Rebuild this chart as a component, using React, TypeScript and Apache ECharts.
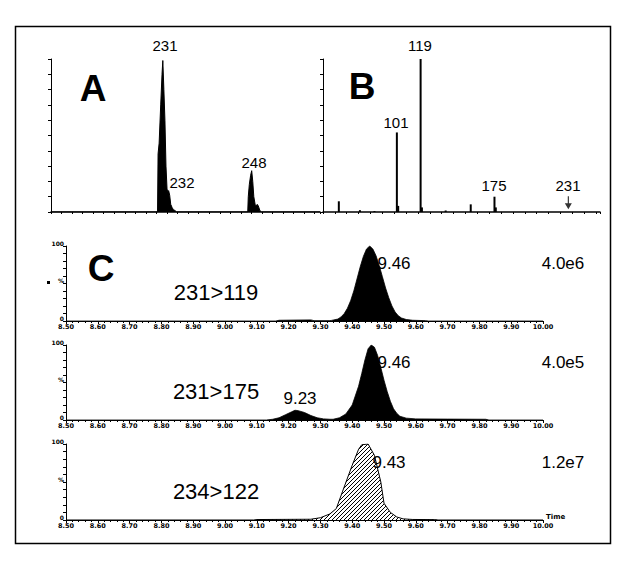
import React, { useEffect, useRef } from "react";
import * as echarts from "echarts";

// ---- Panel A: full-scan spectrum (profile) ----
const specAMz = [210, 230.2, 230.3, 230.5, 230.8, 231.05, 231.2, 231.4, 231.6, 231.8, 232.0, 232.15, 232.3, 232.5, 232.7, 232.95, 233.2, 233.5, 233.8, 247.3, 247.4, 247.6, 247.85, 248.05, 248.25, 248.45, 248.7, 248.9, 249.1, 249.3, 249.6, 249.9, 261];
const specAInt = [0, 0, 38, 45, 70, 90, 99, 80, 60, 30, 15, 13, 14, 11, 5, 3, 1.5, 1, 0, 0, 10, 18, 24, 27, 20, 10, 5, 4, 5, 4, 1, 0, 0];
const labelsA = ["231", "232", "248"];

// ---- Panel B: product-ion spectrum (centroid sticks) ----
const specBMz = [57, 73, 84, 101, 102, 119, 120, 138, 157, 175, 176];
const specBInt = [7, 1.2, 0.6, 52, 4, 100, 3, 1, 5, 10, 3];
const labelsB = ["101", "119", "175", "231"];
const arrowMz = 231;

// ---- Panel C: MRM chromatograms ----
const c1Time = [8.5, 9.16, 9.17, 9.27, 9.28, 9.33, 9.335, 9.355, 9.365, 9.375, 9.385, 9.395, 9.405, 9.415, 9.425, 9.435, 9.445, 9.455, 9.465, 9.475, 9.485, 9.495, 9.505, 9.515, 9.525, 9.535, 9.545, 9.555, 9.57, 9.59, 9.63, 9.64, 10.0];
const c1Int = [0, 0, 1, 1.5, 0.5, 0.5, 0.8, 2.6, 5.5, 10, 17, 27, 40, 56, 72, 86, 96, 100, 96, 87, 74, 59, 44, 31, 20, 12, 7, 4, 2, 1, 0.5, 0, 0];
const c2Time = [8.5, 9.13, 9.15, 9.17, 9.19, 9.21, 9.22, 9.23, 9.25, 9.27, 9.29, 9.31, 9.33, 9.34, 9.36, 9.38, 9.4, 9.42, 9.43, 9.44, 9.45, 9.46, 9.47, 9.48, 9.49, 9.5, 9.51, 9.52, 9.53, 9.54, 9.55, 9.57, 9.6, 9.7, 9.82, 9.83, 10.0];
const c2Int = [0, 0, 1, 3, 7, 11, 13, 12.5, 10, 6, 3, 1.5, 1, 1, 3, 8, 20, 45, 62, 80, 95, 100, 97, 86, 70, 53, 38, 25, 15, 9, 5, 2.5, 1.5, 1.2, 1, 0, 0];
const c3Time = [8.5, 9.09, 9.1, 9.27, 9.3, 9.33, 9.35, 9.37, 9.4, 9.42, 9.43, 9.45, 9.47, 9.49, 9.5, 9.52, 9.54, 9.56, 9.59, 9.66, 9.67, 10.0];
const c3Int = [0, 0, 0.6, 1, 3, 8, 15, 38, 72, 93, 99, 100, 85, 50, 22, 10, 4, 1.5, 0.7, 0.5, 0, 0];
const timeRange = [8.5, 10.0];

const transitions = ["231>119", "231>175", "234>122"];
const peakLabels = ["9.46", "9.46", "9.43"];
const minorPeakLabel = "9.23";
const intensities = ["4.0e6", "4.0e5", "1.2e7"];

const FONT = "'Liberation Sans', Arial, sans-serif";

const hatch =
  "data:image/svg+xml;utf8," +
  encodeURIComponent(
    "<svg xmlns='http://www.w3.org/2000/svg' width='4' height='4'><path d='M-1,1 L1,-1 M0,4 L4,0 M3,5 L5,3' stroke='black' stroke-width='1'/></svg>"
  );

export default function App() {
  const ref = useRef<HTMLDivElement>(null);
  useEffect(() => {
    if (!ref.current) return;
    const chart = echarts.init(ref.current, null, { renderer: "svg" });

    const pairs = (xs: number[], ys: number[]) => xs.map((x, i) => [x, ys[i]]);

    const grids = [
      { left: 51, top: 59, width: 269, height: 153 },
      { left: 323, top: 59, width: 277, height: 153 },
      { left: 66, top: 246, width: 477, height: 75 },
      { left: 66, top: 345, width: 477, height: 75 },
      { left: 66, top: 444, width: 477, height: 76 },
    ];

    const specX = (gi: number, min: number, max: number, interval: number) => ({
      type: "value",
      gridIndex: gi,
      min,
      max,
      interval,
      axisLine: { show: true, lineStyle: { color: "#000", width: 1.5 } },
      axisTick: { show: true, length: 2, lineStyle: { color: "#000" } },
      axisLabel: { show: false },
      splitLine: { show: false },
    });
    const specY = (gi: number) => ({
      type: "value",
      gridIndex: gi,
      min: 0,
      max: 100,
      interval: 10,
      axisLine: { show: true, lineStyle: { color: "#000" } },
      axisTick: { show: true, length: 3, lineStyle: { color: "#000" } },
      axisLabel: { show: false },
      splitLine: { show: false },
    });
    const chromX = (gi: number, last: boolean) => ({
      type: "value",
      gridIndex: gi,
      min: timeRange[0],
      max: timeRange[1],
      interval: 0.1,
      name: last ? "Time" : "",
      nameLocation: "end",
      nameGap: 3,
      nameTextStyle: { fontSize: 7, fontWeight: "bold", color: "#000", fontFamily: "DejaVu Sans", verticalAlign: "bottom" },
      axisLine: { show: true, lineStyle: { color: "#000", width: 1 } },
      axisTick: { show: true, length: 3, lineStyle: { color: "#000" } },
      minorTick: { show: true, splitNumber: 5, length: 2, lineStyle: { color: "#000" } },
      axisLabel: {
        show: true,
        fontSize: 6.5,
        fontWeight: "bold",
        color: "#000",
        fontFamily: "DejaVu Sans",
        margin: 2,
        formatter: (v: number) => v.toFixed(2),
      },
      splitLine: { show: false },
    });
    const chromY = (gi: number) => ({
      type: "value",
      gridIndex: gi,
      min: 0,
      max: 100,
      interval: 10,
      axisLine: { show: true, lineStyle: { color: "#000" } },
      axisTick: { show: true, length: 3, lineStyle: { color: "#000" } },
      axisLabel: {
        show: true,
        fontSize: 6,
        fontWeight: "bold",
        color: "#000",
        fontFamily: "DejaVu Sans",
        margin: 2,
        verticalAlign: "bottom",
        formatter: (v: number) => (v === 100 ? "100" : v === 50 ? "%" : v === 0 ? "0" : ""),
      },
      splitLine: { show: false },
    });

    const txt = (x: number, y: number, text: string, size: number, bold = false) => ({
      type: "text",
      x,
      y,
      style: {
        text,
        fontSize: size,
        fontWeight: bold ? "bold" : "normal",
        fontFamily: FONT,
        fill: "#000",
        textAlign: "center",
        textVerticalAlign: "middle",
      },
    });

    const chromSeries = (i: number, t: number[], v: number[], hatched: boolean) => ({
      type: "line",
      xAxisIndex: i,
      yAxisIndex: i,
      data: pairs(t, v),
      symbol: "none",
      lineStyle: { color: "#000", width: hatched ? 1 : 0.8 },
      areaStyle: hatched
        ? { color: { image: hatch, repeat: "repeat", imageWidth: 4, imageHeight: 4 }, opacity: 1 }
        : { color: "#000", opacity: 1 },
      silent: true,
    });

    chart.setOption({
      animation: false,
      backgroundColor: "#fff",
      grid: grids,
      xAxis: [
        specX(0, 210, 261, 2),
        specX(1, 45, 255, 9),
        chromX(2, false),
        chromX(3, false),
        chromX(4, true),
      ],
      yAxis: [specY(0), specY(1), chromY(2), chromY(3), chromY(4)],
      series: [
        {
          type: "line",
          xAxisIndex: 0,
          yAxisIndex: 0,
          data: pairs(specAMz, specAInt),
          symbol: "none",
          lineStyle: { color: "#000", width: 1 },
          areaStyle: { color: "#000", opacity: 1 },
        },
        {
          type: "bar",
          xAxisIndex: 1,
          yAxisIndex: 1,
          data: pairs(specBMz, specBInt),
          barWidth: 2,
          itemStyle: { color: "#000" },
        },
        {
          type: "scatter",
          xAxisIndex: 1,
          yAxisIndex: 1,
          data: [[arrowMz, 6]],
          symbol: "path://M2.5,0 L3.5,0 L3.5,7 L6,7 L3,13 L0,7 L2.5,7 Z",
          symbolSize: [7, 13],
          itemStyle: { color: "#000" },
        },
        chromSeries(2, c1Time, c1Int, false),
        chromSeries(3, c2Time, c2Int, false),
        chromSeries(4, c3Time, c3Int, true),
      ],
      graphic: [
        {
          type: "rect",
          shape: { x: 15.5, y: 26.5, width: 595, height: 517 },
          style: { fill: "none", stroke: "#000", lineWidth: 1.5 },
        },
        { type: "rect", shape: { x: 47, y: 281, width: 3, height: 3 }, style: { fill: "#000" } },
        txt(93, 88, "A", 37, true),
        txt(362, 86, "B", 37, true),
        txt(101, 268, "C", 37, true),
        txt(165, 45, labelsA[0], 15),
        txt(182, 182, labelsA[1], 15),
        txt(254, 162, labelsA[2], 15),
        txt(396, 122, labelsB[0], 15),
        txt(420, 45, labelsB[1], 15),
        txt(494, 185, labelsB[2], 15),
        txt(568, 185, labelsB[3], 15),
        txt(216, 292, transitions[0], 22),
        txt(216, 391, transitions[1], 22),
        txt(216, 491, transitions[2], 22),
        txt(394, 263, peakLabels[0], 17),
        txt(394, 362, peakLabels[1], 17),
        txt(389, 462, peakLabels[2], 17),
        txt(300, 398, minorPeakLabel, 17),
        txt(563, 263, intensities[0], 17),
        txt(563, 362, intensities[1], 17),
        txt(563, 462, intensities[2], 17),
      ],
    });
    return () => chart.dispose();
  }, []);
  return (
    <div
      ref={ref}
      style={{ position: "fixed", left: 0, top: 0, width: 643, height: 566, background: "#fff" }}
    />
  );
}
